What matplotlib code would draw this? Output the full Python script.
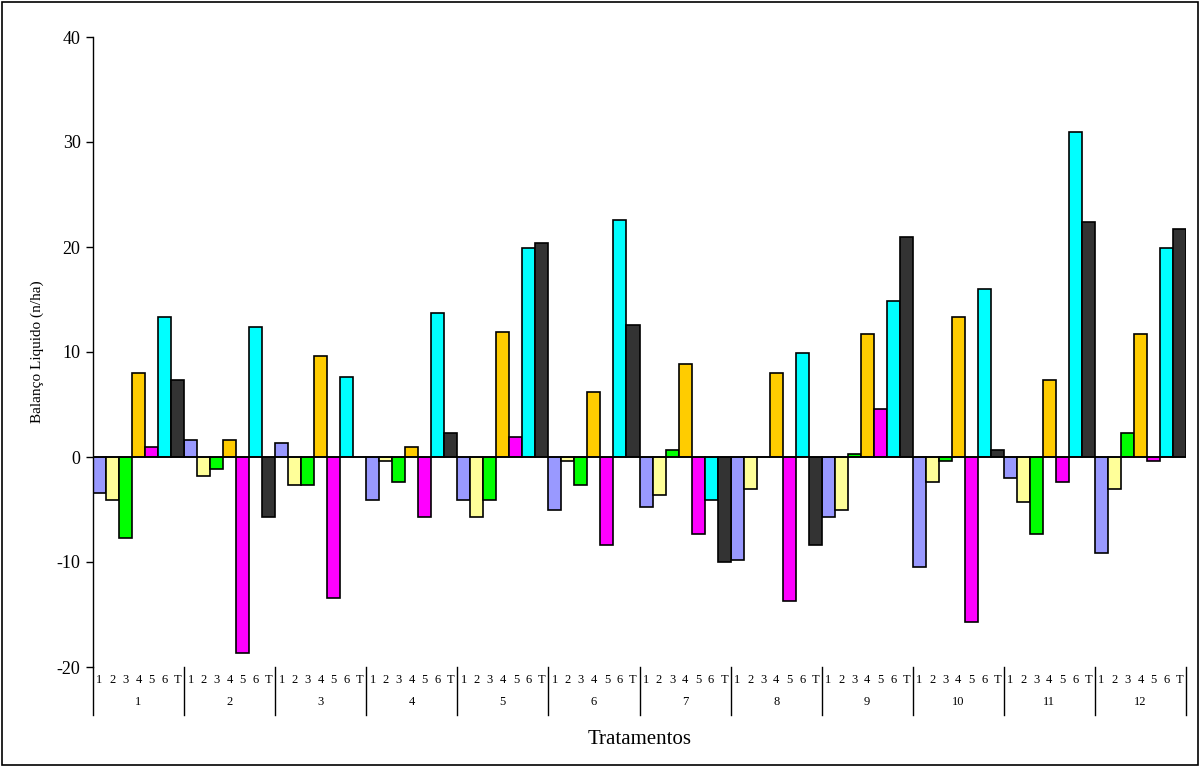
import matplotlib
matplotlib.use("Agg")
import matplotlib.pyplot as plt
from matplotlib.patches import Rectangle
import numpy as np

plt.rcParams['font.family'] = ['Liberation Serif', 'DejaVu Serif']

groups = ['1', '2', '3', '4', '5', '6', '7', '8', '9', '10', '11', '12']
series = ['1', '2', '3', '4', '5', '6', 'T']
colors = ['#9999FF', '#FFFF99', '#00FF00', '#FFCC00', '#FF00FF', '#00FFFF', '#333333']

s1 = [-3.4, 1.6, 1.3, -4.1, -4.1, -5.0, -4.8, -9.8, -5.7, -10.5, -2.0, -9.1]
s2 = [-4.1, -1.8, -2.7, -0.4, -5.7, -0.4, -3.6, -3.0, -5.0, -2.4, -4.3, -3.0]
s3 = [-7.7, -1.1, -2.7, -2.4, -4.1, -2.7, 0.7, 0.0, 0.3, -0.35, -7.3, 2.3]
s4 = [8.0, 1.6, 9.6, 0.95, 11.9, 6.2, 8.9, 8.0, 11.7, 13.3, 7.3, 11.7]
s5 = [0.95, -18.7, -13.4, -5.7, 1.9, -8.4, -7.3, -13.7, 4.6, -15.7, -2.4, -0.4]
s6 = [13.3, 12.4, 7.6, 13.7, 19.9, 22.6, -4.1, 9.9, 14.9, 16.0, 31.0, 19.9]
sT = [7.3, -5.7, 0.0, 2.3, 20.4, 12.6, -10.0, -8.4, 21.0, 0.7, 22.4, 21.7]

data = [s1, s2, s3, s4, s5, s6, sT]
ns = len(series)
ng = len(groups)

fig = plt.figure(figsize=(12, 7.67), dpi=100)
ax = fig.add_axes([93/1200, 1-667/767, (1186-93)/1200, (667-37)/767])

for j in range(ns):
    xs = [g*ns + j for g in range(ng)]
    ax.bar(xs, data[j], width=1.0, align='edge', color=colors[j],
           edgecolor='black', linewidth=1.2, zorder=2)

ax.set_xlim(0, ng*ns)
ax.set_ylim(-20, 40)
ax.set_yticks([-20, -10, 0, 10, 20, 30, 40])
ax.set_yticklabels(['-20', '-10', '0', '10', '20', '30', '40'], fontsize=13)
ax.tick_params(axis='y', direction='out', length=5, width=1, pad=4)
ax.set_xticks([])
for sp in ['top', 'right', 'bottom']:
    ax.spines[sp].set_visible(False)
ax.spines['left'].set_linewidth(1)
ax.axhline(0, color='black', linewidth=1.2, zorder=3)

trans = ax.get_xaxis_transform()
for g in range(ng):
    for j in range(ns):
        ax.text(g*ns + j + 0.5, -0.0206, series[j], transform=trans,
                ha='center', va='center', fontsize=9, clip_on=False)
    ax.text(g*ns + ns/2, -0.0556, groups[g], transform=trans,
            ha='center', va='center', fontsize=9, clip_on=False)
for g in range(ng + 1):
    ax.plot([g*ns, g*ns], [0, -0.076], transform=trans, color='black',
            linewidth=1, clip_on=False)

fig.text(640/1200, 1-740/767, 'Tratamentos', ha='center', va='center', fontsize=15)
fig.text(37/1200, 1-352/767, 'Balanço Liquido (n/ha)', ha='center', va='center',
         rotation=90, fontsize=11)

fig.patches.append(Rectangle((0.0015, 0.002), 0.997, 0.996, transform=fig.transFigure,
                             fill=False, edgecolor='black', linewidth=1.2))

fig.savefig('out.png', dpi=100)
